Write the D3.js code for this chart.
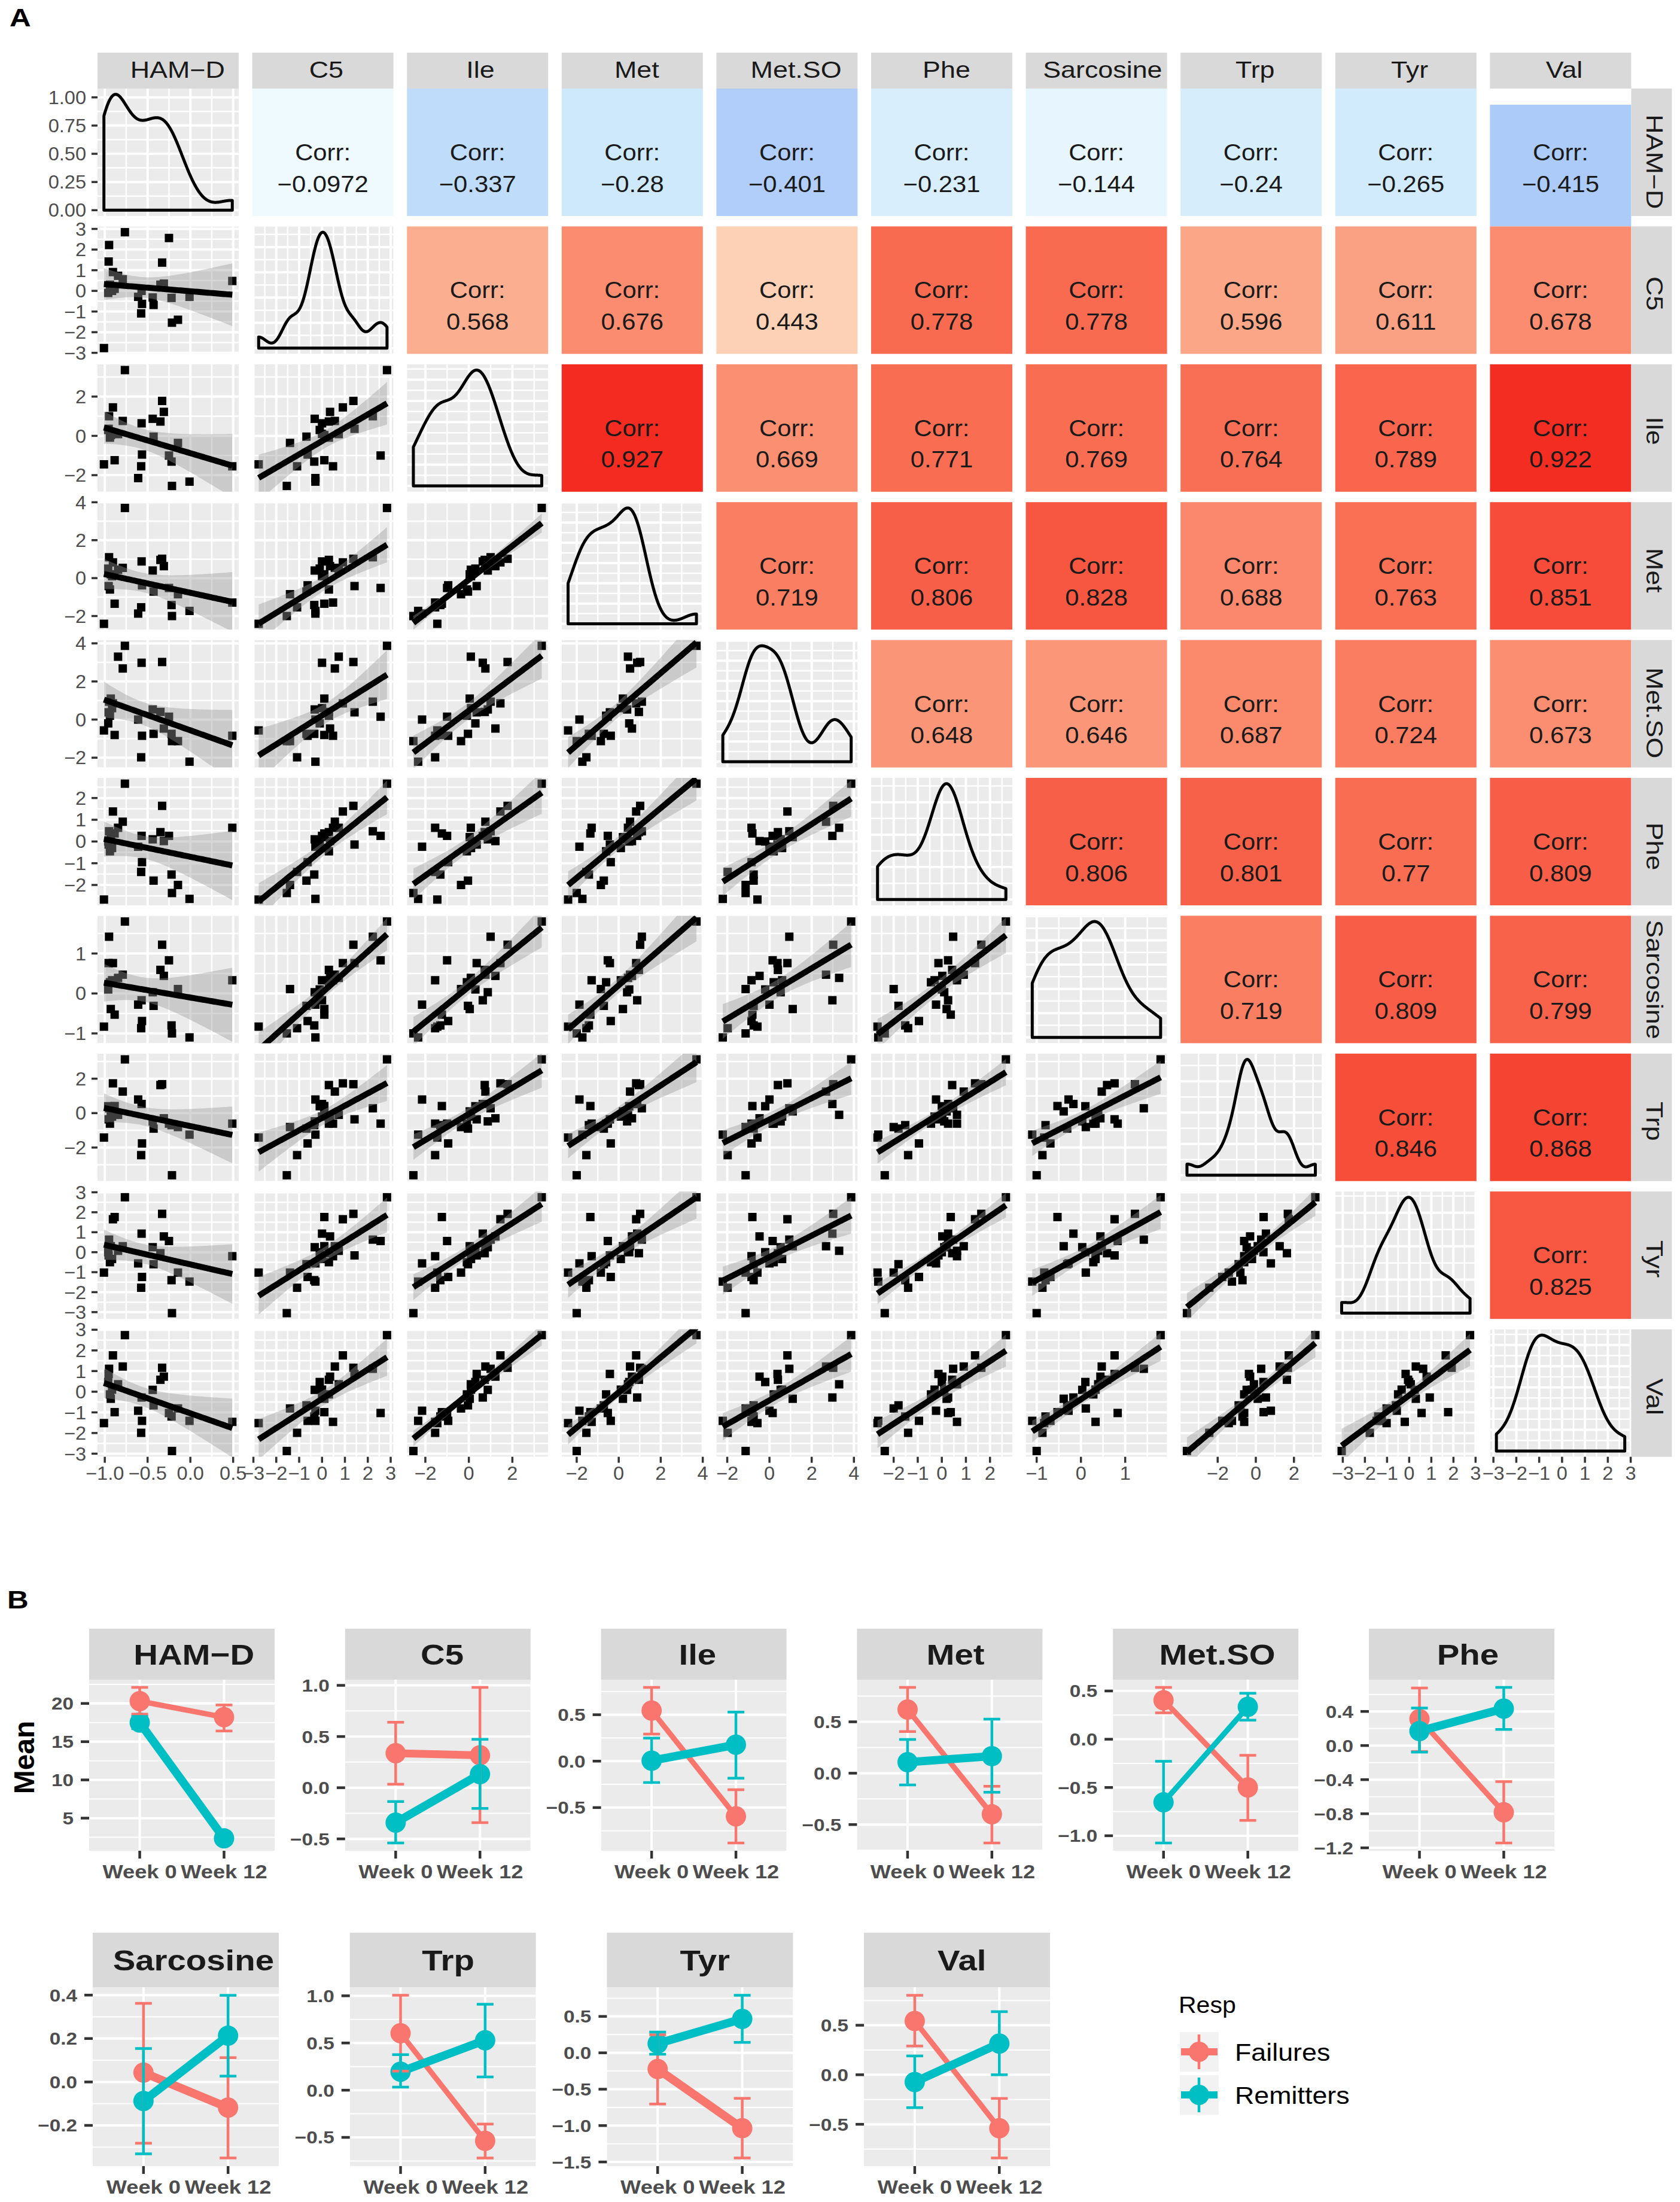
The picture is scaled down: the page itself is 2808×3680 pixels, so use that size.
<!doctype html>
<html>
<head>
<meta charset="utf-8">
<script src="https://cdnjs.cloudflare.com/ajax/libs/d3/7.8.5/d3.min.js"></script>
<style>
  body { margin: 0; background: #fff; }
  text { font-family: "Liberation Sans", Arial, sans-serif; }
</style>
</head>
<body>
<svg id="fig" width="2808" height="3680"></svg>
<script>
// ---------- data: panel A (standardised values per subject) ----------
var vars = ["HAM\u2212D", "C5", "Ile", "Met", "Met.SO", "Phe", "Sarcosine", "Trp", "Tyr", "Val"];

var hamd  = [-1.01, -0.95, -0.955, -0.94, -0.93, -0.96, -0.915, -0.905, -0.885, -0.845, -0.79, -0.765, -0.61, -0.57, -0.565, -0.575, -0.44, -0.43, -0.35, -0.33, -0.31, -0.25, -0.215, -0.22, -0.145, -0.01, 0.49];
var c5    = [-2.77, 2.22, 1.42, 0.30, 0.10, -0.10, 0.00, 0.91, 0.10, 0.73, 0.56, 2.84, -0.29, 0.00, -0.63, -1.09, -0.32, -0.68, 0.30, 1.37, 0.35, 2.56, -1.54, -0.34, -1.40, -0.29, 0.48];
var ile   = [-1.45, 1.00, 0.36, -0.09, 0.04, 0.30, 0.10, 1.45, -1.24, 0.09, 0.76, 3.35, -2.15, 0.64, -0.95, -1.55, 0.87, -0.04, 0.73, 1.78, 1.22, -1.00, -2.55, -1.31, -0.36, -2.33, -1.55];
var met   = [-2.41, 1.10, -0.42, -0.60, 0.20, 0.50, 0.10, 0.83, -1.35, 0.44, 0.54, 3.70, -1.87, 0.88, -0.38, -1.54, 0.40, -0.71, 0.96, 1.02, 0.63, -0.52, -2.00, -1.42, -0.85, -1.73, -1.29];
var metso = [-0.57, 0.94, 0.38, 0.20, 1.10, -0.20, 0.60, 0.85, -0.81, 3.30, 2.68, 3.87, 0.00, 2.98, -0.85, -1.98, 0.53, -0.75, 0.40, 3.02, -0.47, 0.15, -1.13, -0.75, -1.13, -2.21, -0.85];
var phe   = [-2.67, 0.47, -0.14, -0.45, 0.20, 0.00, -0.30, 1.38, 0.37, 0.63, 0.91, 2.66, -0.24, 0.26, -0.95, -1.40, 0.10, -1.80, 0.43, 1.64, 0.02, 0.26, -2.37, -1.52, -2.00, -2.64, 0.63];
var sarc  = [-0.83, 1.42, 0.76, 0.28, -0.39, 0.10, 0.33, 0.76, -0.53, 0.39, 0.47, 1.80, -0.28, -0.17, -0.69, -0.87, 0.03, -0.31, 0.59, 1.22, 0.44, 0.83, -1.00, -0.80, 0.11, -1.10, 0.33];
var trp   = [-1.42, 0.28, -0.36, -0.61, 0.10, 0.40, -0.20, 1.73, 0.41, -0.10, 1.25, 3.12, 0.79, 0.53, -1.76, -2.44, -0.48, -0.90, 1.63, 1.68, -0.30, -0.61, -3.61, -0.70, -0.81, -1.25, -0.61];
var tyr   = [-1.02, 0.63, -0.16, -0.50, 0.30, 0.00, -0.34, 1.65, 1.76, 0.07, 0.30, 2.75, -0.56, 0.93, -1.24, -1.78, 0.25, -0.60, -0.05, 1.92, 0.79, 0.56, -3.05, -1.40, -1.02, -1.47, -0.20];
var val   = [-1.52, 1.11, 0.86, -0.13, -0.34, 0.47, 0.10, 1.76, -0.99, 0.36, 1.22, 2.74, -0.92, -0.28, -1.41, -1.99, 0.09, -0.66, 0.58, 1.16, 0.73, -1.03, -2.87, -1.20, -0.81, -1.41, -1.46];
var cols = [hamd, c5, ile, met, metso, phe, sarc, trp, tyr, val];

// printed correlations, upper triangle, row by row
var corrVals = [
  [-0.0972, -0.337, -0.28, -0.401, -0.231, -0.144, -0.24, -0.265, -0.415],
  [0.568, 0.676, 0.443, 0.778, 0.778, 0.596, 0.611, 0.678],
  [0.927, 0.669, 0.771, 0.769, 0.764, 0.789, 0.922],
  [0.719, 0.806, 0.828, 0.688, 0.763, 0.851],
  [0.648, 0.646, 0.687, 0.724, 0.673],
  [0.806, 0.801, 0.77, 0.809],
  [0.719, 0.809, 0.799],
  [0.846, 0.868],
  [0.825]
];

var tickVals = [[-1, -0.5, 0, 0.5], [-3, -2, -1, 0, 1, 2, 3], [-2, 0, 2], [-2, 0, 2, 4], [-2, 0, 2, 4],
                [-2, -1, 0, 1, 2], [-1, 0, 1], [-2, 0, 2], [-3, -2, -1, 0, 1, 2, 3], [-3, -2, -1, 0, 1, 2, 3]];
var densTicks = [0, 0.25, 0.5, 0.75, 1];

// ---------- data: panel B (group means with error bars) ----------
var weeks = ["Week 0", "Week 12"];
var groups = ["Failures", "Remitters"];
var failMean = [[20.3, 18.2], [0.337, 0.317], [0.544, -0.594], [0.62, -0.40], [0.404, -0.50], [0.311, -0.783], [0.043, -0.118], [0.603, -0.537], [-0.223, -1.036], [0.543, -0.54]];
var failLo   = [[18.6, 16.4], [0.035, -0.341], [0.292, -0.881], [0.406, -0.679], [0.274, -0.841], [-0.07, -1.143], [-0.282, -0.35], [0.202, -0.718], [-0.703, -1.445], [0.29, -0.84]];
var failHi   = [[22.1, 19.8], [0.639, 0.98], [0.794, -0.307], [0.835, -0.127], [0.537, -0.166], [0.675, -0.423], [0.362, 0.112], [1.005, -0.359], [0.248, -0.626], [0.802, -0.239]];
var remMean  = [[17.5, 2.35], [-0.341, 0.132], [0.005, 0.177], [0.107, 0.166], [-0.654, 0.336], [0.17, 0.433], [-0.088, 0.213], [0.196, 0.529], [0.127, 0.466], [-0.073, 0.315]];
var remLo    = [[16.7, 1.75], [-0.54, -0.203], [-0.231, -0.184], [-0.114, -0.185], [-1.075, 0.197], [-0.077, 0.189], [-0.331, 0.027], [0.033, 0.141], [-0.02, 0.144], [-0.332, 0.0]];
var remHi    = [[18.3, 2.95], [-0.135, 0.473], [0.248, 0.528], [0.328, 0.527], [-0.228, 0.477], [0.44, 0.682], [0.154, 0.399], [0.377, 0.91], [0.285, 0.79], [0.19, 0.637]];
var bTicks = [[5, 10, 15, 20], [-0.5, 0, 0.5, 1], [-0.5, 0, 0.5], [-0.5, 0, 0.5], [-1, -0.5, 0, 0.5],
              [-1.2, -0.8, -0.4, 0, 0.4], [-0.2, 0, 0.2, 0.4], [-0.5, 0, 0.5, 1], [-1.5, -1, -0.5, 0, 0.5], [-0.5, 0, 0.5]];

// ---------- styles / layout ----------
var F_COL = "#F8766D", R_COL = "#00BFC4";
var lineW = [[9, 14], [13, 14], [9, 14], [9, 14], [9, 9], [9, 14], [14, 14], [9, 14], [14, 14], [9, 14]];
var A = {x0: 163, step: 258.6, w: 236, y0: 148, vstep: 230.4, h: 213, strip: 60, rstrip: 68};
var valCellDrop = 27;
var bRows = [{top: 2722, sh: 85, h: 286, x0: 149, step: 427.8, w: 310},
             {top: 3230, sh: 91, h: 299, x0: 155, step: 429.7, w: 311}];

var svg = d3.select("#fig");
var defs = svg.append("defs");

function expand(e) { var d = e[1] - e[0]; return [e[0] - 0.05 * d, e[1] + 0.05 * d]; }
function inDom(v, s) { var d = s.domain(); return v >= Math.min(d[0], d[1]) - 1e-9 && v <= Math.max(d[0], d[1]) + 1e-9; }
function minors(t, s) {
  var st = t[1] - t[0], out = [];
  for (var k = -1; k < t.length; k++) { var v = t[0] + st * (k + 0.5); if (inDom(v, s)) out.push(v); }
  return out;
}

function label(g, x, y, str, o) {
  o = o || {};
  var sx = o.sx || 1.15;
  var t = g.append("text").text(str)
    .attr("font-size", o.size || 31)
    .attr("font-weight", o.bold ? "bold" : "normal")
    .attr("fill", o.fill || "#4d4d4d")
    .attr("text-anchor", o.anchor || "middle");
  if (o.dy) t.attr("dy", o.dy);
  var sh = 0;
  if (o.shift) {
    var w = t.node().getComputedTextLength() * sx;
    sh = Math.max(0, Math.min(o.shift * w, (o.avail - w) / 2 - 8));
  }
  t.attr("transform", "translate(" + x + "," + y + ")" + (o.rot ? " rotate(" + o.rot + ")" : "") +
         " translate(" + sh + ",0) scale(" + sx + ",1)");
  return t;
}

function vlines(g, xs, vals, T, H, w) {
  g.selectAll(null).data(vals).enter().append("line")
    .attr("x1", function(d) { return xs(d); }).attr("x2", function(d) { return xs(d); })
    .attr("y1", T).attr("y2", T + H).attr("stroke", "#fff").attr("stroke-width", w);
}
function hlines(g, ys, vals, L, W, w) {
  g.selectAll(null).data(vals).enter().append("line")
    .attr("y1", function(d) { return ys(d); }).attr("y2", function(d) { return ys(d); })
    .attr("x1", L).attr("x2", L + W).attr("stroke", "#fff").attr("stroke-width", w);
}

function kde(v) {
  var n = v.length, sd = d3.deviation(v), iqr = d3.quantile(v, 0.75) - d3.quantile(v, 0.25);
  var bw = 0.9 * Math.min(sd, iqr / 1.34) * Math.pow(n, -0.2);
  var ext = d3.extent(v);
  return d3.range(512).map(function(k) {
    var x = ext[0] + (ext[1] - ext[0]) * k / 511;
    var d = d3.mean(v, function(xi) { return Math.exp(-0.5 * Math.pow((x - xi) / bw, 2)); }) / (bw * Math.sqrt(2 * Math.PI));
    return [x, d];
  });
}

function fitLm(xs, ys) {
  var n = xs.length, mx = d3.mean(xs), my = d3.mean(ys);
  var sxx = d3.sum(xs, function(x) { return (x - mx) * (x - mx); });
  var sxy = d3.sum(xs.map(function(x, k) { return (x - mx) * (ys[k] - my); }));
  var b = sxy / sxx, a = my - b * mx;
  var rss = d3.sum(xs.map(function(x, k) { return Math.pow(ys[k] - a - b * x, 2); }));
  var s = Math.sqrt(rss / (n - 2)), tq = 2.06, ext = d3.extent(xs);
  return d3.range(80).map(function(k) {
    var x = ext[0] + (ext[1] - ext[0]) * k / 79, f = a + b * x;
    var se = s * Math.sqrt(1 / n + (x - mx) * (x - mx) / sxx);
    return {x: x, y: f, lo: f - tq * se, hi: f + tq * se};
  });
}

var corrColor = d3.scaleLinear()
  .domain([-0.42, -0.337, -0.265, -0.1, 0.44, 0.57, 0.68, 0.78, 0.93])
  .range(["#abcaf9", "#bfddfa", "#d2ebfc", "#eefaff", "#fdd2b6", "#fbae8f", "#fb8b6e", "#f96a50", "#f42a1f"]);
var fmtCorr = d3.format(".3~r");

// ---------- panel A ----------
var nv = vars.length;
var xS = cols.map(function(v, j) { var L = A.x0 + j * A.step; return d3.scaleLinear().domain(expand(d3.extent(v))).range([L, L + A.w]); });
var yS = cols.map(function(v, i) { var T = A.y0 + i * A.vstep; return d3.scaleLinear().domain(expand(d3.extent(v))).range([T + A.h, T]); });
var densScale0 = null;

for (var i = 0; i < nv; i++) {
  for (var j = 0; j < nv; j++) {
    var L = A.x0 + j * A.step, T = A.y0 + i * A.vstep;
    if (j > i) {
      var cv = corrVals[i][j - i - 1];
      var rT = T, rH = A.h;
      if (i === 0 && j === nv - 1) { rT = T + valCellDrop; rH = A.vstep - valCellDrop; }
      svg.append("rect").attr("x", L).attr("y", rT).attr("width", A.w).attr("height", rH).attr("fill", corrColor(cv));
      label(svg, L + A.w / 2, T + A.h / 2 + 13.5, "Corr:", {size: 38, fill: "#1a1a1a", sx: 1.1});
      label(svg, L + A.w / 2, T + A.h / 2 + 66, fmtCorr(cv), {size: 38, fill: "#1a1a1a", sx: 1.1});
      continue;
    }
    var cid = "clipA" + i + "_" + j;
    defs.append("clipPath").attr("id", cid).append("rect").attr("x", L).attr("y", T).attr("width", A.w).attr("height", A.h);
    var g = svg.append("g").attr("clip-path", "url(#" + cid + ")");
    g.append("rect").attr("x", L).attr("y", T).attr("width", A.w).attr("height", A.h).attr("fill", "#ebebeb");
    var xs = xS[j], ys, yt, dens = null;
    if (i === j) {
      dens = kde(cols[i]);
      ys = d3.scaleLinear().domain(expand([0, d3.max(dens, function(d) { return d[1]; })])).range([T + A.h, T]);
      yt = i === 0 ? densTicks : ys.ticks(5);
      if (i === 0) densScale0 = ys;
    } else {
      ys = yS[i]; yt = tickVals[i];
    }
    var xt = tickVals[j];
    vlines(g, xs, minors(xt, xs), T, A.h, 2.5);
    hlines(g, ys, minors(yt, ys), L, A.w, 2.5);
    vlines(g, xs, xt.filter(function(v) { return inDom(v, xs); }), T, A.h, 4);
    hlines(g, ys, yt.filter(function(v) { return inDom(v, ys); }), L, A.w, 4);

    if (dens) {
      var pts = [[dens[0][0], 0]].concat(dens, [[dens[dens.length - 1][0], 0]]);
      g.append("path")
        .attr("d", d3.line().x(function(d) { return xs(d[0]); }).y(function(d) { return ys(d[1]); })(pts) + "Z")
        .attr("fill", "none").attr("stroke", "#000").attr("stroke-width", 5).attr("stroke-linejoin", "round");
    } else {
      var xv = cols[j], yv = cols[i];
      var pairs = xv.map(function(x, k) { return [x, yv[k]]; });
      g.selectAll(null).data(pairs).enter().append("rect")
        .attr("x", function(d) { return xs(d[0]) - 7; }).attr("y", function(d) { return ys(d[1]) - 7; })
        .attr("width", 14).attr("height", 14).attr("fill", "#000");
      var fit = fitLm(xv, yv);
      g.append("path")
        .attr("d", d3.area().x(function(d) { return xs(d.x); }).y0(function(d) { return ys(d.lo); }).y1(function(d) { return ys(d.hi); })(fit))
        .attr("fill", "#999999").attr("fill-opacity", 0.4);
      g.append("path")
        .attr("d", d3.line().x(function(d) { return xs(d.x); }).y(function(d) { return ys(d.y); })(fit))
        .attr("fill", "none").attr("stroke", "#000").attr("stroke-width", 10);
    }
  }
}

// strips
vars.forEach(function(name, j) {
  var L = A.x0 + j * A.step;
  svg.append("rect").attr("x", L).attr("y", A.y0 - A.strip).attr("width", A.w).attr("height", A.strip).attr("fill", "#d9d9d9");
  label(svg, L + A.w / 2, A.y0 - A.strip + 42, name, {size: 39, fill: "#1a1a1a", shift: 0.1, avail: A.w});
});
var rx = A.x0 + (nv - 1) * A.step + A.w;
vars.forEach(function(name, i) {
  var T = A.y0 + i * A.vstep;
  svg.append("rect").attr("x", rx).attr("y", T).attr("width", A.rstrip).attr("height", A.h).attr("fill", "#d9d9d9");
  label(svg, rx + 26, T + A.h / 2, name, {size: 39, fill: "#1a1a1a", rot: 90, shift: 0.1, avail: A.h});
});

// axes A
var fmtInt = d3.format("d"), fmt1 = d3.format(".1f"), fmt2 = d3.format(".2f");
for (var r = 0; r < nv; r++) {
  var ysc = r === 0 ? densScale0 : yS[r];
  var tv = (r === 0 ? densTicks : tickVals[r]).filter(function(v) { return inDom(v, ysc); });
  tv.forEach(function(v) {
    svg.append("line").attr("x1", A.x0 - 10).attr("x2", A.x0).attr("y1", ysc(v)).attr("y2", ysc(v))
      .attr("stroke", "#333").attr("stroke-width", 3.5);
    label(svg, A.x0 - 19, ysc(v), r === 0 ? fmt2(v) : fmtInt(v), {size: 31, anchor: "end", dy: "0.36em", sx: 1.05});
  });
}
var yb = A.y0 + (nv - 1) * A.vstep + A.h;
for (var c = 0; c < nv; c++) {
  var xsc = xS[c];
  tickVals[c].filter(function(v) { return inDom(v, xsc); }).forEach(function(v) {
    svg.append("line").attr("x1", xsc(v)).attr("x2", xsc(v)).attr("y1", yb).attr("y2", yb + 10)
      .attr("stroke", "#333").attr("stroke-width", 3.5);
    label(svg, xsc(v), yb + 38, c === 0 ? fmt1(v) : fmtInt(v), {size: 31, sx: 1.05});
  });
}
label(svg, 16, 44, "A", {size: 43, bold: true, fill: "#000", anchor: "start"});

// ---------- panel B ----------
label(svg, 12, 2688, "B", {size: 43, bold: true, fill: "#000", anchor: "start"});
label(svg, 40, 2937, "Mean", {size: 48, bold: true, fill: "#000", rot: -90, sx: 1, dy: "0.35em"});

vars.forEach(function(name, k) {
  var rw = k < 6 ? bRows[0] : bRows[1], c = k < 6 ? k : k - 6;
  var L = rw.x0 + c * rw.step, ST = rw.top, T = rw.top + rw.sh, W = rw.w, H = rw.h;
  var series = [
    {mean: failMean[k], lo: failLo[k], hi: failHi[k], col: F_COL, lw: lineW[k][0]},
    {mean: remMean[k], lo: remLo[k], hi: remHi[k], col: R_COL, lw: lineW[k][1]}
  ];
  var lo = d3.min(failLo[k].concat(remLo[k])), hi = d3.max(failHi[k].concat(remHi[k]));
  var y = d3.scaleLinear().domain(expand([lo, hi])).range([T + H, T]);
  var x = d3.scalePoint().domain(weeks).range([L, L + W]).padding(0.6);

  svg.append("rect").attr("x", L).attr("y", ST).attr("width", W).attr("height", rw.sh).attr("fill", "#d9d9d9");
  label(svg, L + W / 2, ST + rw.sh / 2 + 17, name, {size: 49, bold: true, fill: "#1a1a1a", shift: 0.1, avail: W});

  var cid = "clipB" + k;
  defs.append("clipPath").attr("id", cid).append("rect").attr("x", L).attr("y", T).attr("width", W).attr("height", H);
  var g = svg.append("g").attr("clip-path", "url(#" + cid + ")");
  g.append("rect").attr("x", L).attr("y", T).attr("width", W).attr("height", H).attr("fill", "#ebebeb");
  var bt = bTicks[k];
  hlines(g, y, minors(bt, y), L, W, 2);
  hlines(g, y, bt.filter(function(v) { return inDom(v, y); }), L, W, 4);
  g.selectAll(null).data(weeks).enter().append("line")
    .attr("x1", function(d) { return x(d); }).attr("x2", function(d) { return x(d); })
    .attr("y1", T).attr("y2", T + H).attr("stroke", "#fff").attr("stroke-width", 4);

  var line = d3.line().x(function(d, m) { return x(weeks[m]); }).y(function(d) { return y(d); });
  series.forEach(function(s) {
    g.append("path").attr("d", line(s.mean)).attr("fill", "none").attr("stroke", s.col).attr("stroke-width", s.lw);
  });
  series.forEach(function(s) {
    g.selectAll(null).data(s.mean).enter().append("circle")
      .attr("cx", function(d, m) { return x(weeks[m]); }).attr("cy", function(d) { return y(d); })
      .attr("r", 17).attr("fill", s.col);
  });
  series.forEach(function(s) {
    weeks.forEach(function(wk, m) {
      var xc = x(wk);
      g.append("line").attr("x1", xc).attr("x2", xc).attr("y1", y(s.lo[m])).attr("y2", y(s.hi[m]))
        .attr("stroke", s.col).attr("stroke-width", 4.5);
      [s.lo[m], s.hi[m]].forEach(function(v) {
        g.append("line").attr("x1", xc - 14).attr("x2", xc + 14).attr("y1", y(v)).attr("y2", y(v))
          .attr("stroke", s.col).attr("stroke-width", 4.5);
      });
    });
  });

  // axes
  var fmt = k === 0 ? fmtInt : fmt1;
  bt.filter(function(v) { return inDom(v, y); }).forEach(function(v) {
    svg.append("line").attr("x1", L - 14).attr("x2", L).attr("y1", y(v)).attr("y2", y(v))
      .attr("stroke", "#333").attr("stroke-width", 4.5);
    label(svg, L - 26, y(v), fmt(v), {size: 29, bold: true, anchor: "end", dy: "0.36em"});
  });
  weeks.forEach(function(wk) {
    svg.append("line").attr("x1", x(wk)).attr("x2", x(wk)).attr("y1", T + H).attr("y2", T + H + 13)
      .attr("stroke", "#333").attr("stroke-width", 4.5);
    label(svg, x(wk), T + H + 46, wk, {size: 31, bold: true, sx: 1.17});
  });
});

// legend
var lg = svg.append("g");
label(lg, 1970, 3364, "Resp", {size: 38, fill: "#000", anchor: "start", sx: 1.08});
groups.forEach(function(name, m) {
  var col = m === 0 ? F_COL : R_COL;
  var ky = 3396 + m * 72, kx = 1972, ks = 66;
  lg.append("rect").attr("x", kx).attr("y", ky).attr("width", ks - 1).attr("height", ks).attr("fill", "#f2f2f2");
  var cx = kx + ks / 2 - 1, cy = ky + ks / 2;
  lg.append("line").attr("x1", cx).attr("x2", cx).attr("y1", ky + 4).attr("y2", ky + ks - 4).attr("stroke", col).attr("stroke-width", 4.5);
  lg.append("line").attr("x1", kx + 2).attr("x2", kx + ks - 3).attr("y1", cy).attr("y2", cy).attr("stroke", col).attr("stroke-width", 12);
  lg.append("circle").attr("cx", cx).attr("cy", cy).attr("r", 17).attr("fill", col);
  label(lg, 2064, cy + 14.5, name, {size: 40, fill: "#000", anchor: "start", sx: 1.12});
});
</script>
</body>
</html>
